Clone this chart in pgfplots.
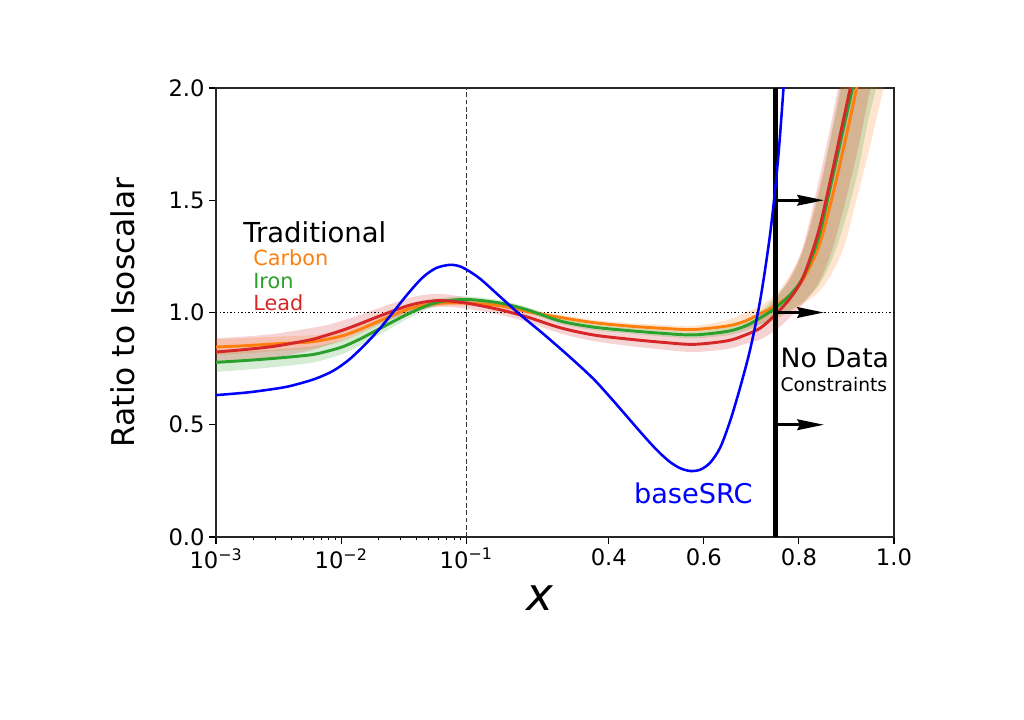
\documentclass[border=0pt]{standalone}
\usepackage{fontspec}
\setmainfont{DejaVu Sans}
\usepackage{pgfplots}
\pgfplotsset{compat=1.18}
\usepackage{pgfplotstable}
\usepgfplotslibrary{fillbetween}
\usetikzlibrary{arrows.meta}

\definecolor{cOrange}{HTML}{FF7F0E}
\definecolor{cGreen}{HTML}{2CA02C}
\definecolor{cRed}{HTML}{D62728}
\definecolor{cBlue}{HTML}{0000FF}

% traditional ratios: centre line and band for carbon (o), iron (g), lead (r)
\pgfplotstableread{
x        oc    olo   ohi   gc    glo   ghi   rc    rlo   rhi
0.001    0.846 0.810 0.880 0.778 0.735 0.820 0.824 0.770 0.885
0.001706 0.852 0.818 0.886 0.786 0.745 0.827 0.835 0.782 0.893
0.002965 0.860 0.828 0.892 0.796 0.757 0.835 0.850 0.800 0.905
0.005649 0.869 0.840 0.898 0.811 0.775 0.847 0.878 0.830 0.930
0.007586 0.880 0.853 0.907 0.826 0.792 0.860 0.898 0.853 0.943
0.01038  0.897 0.872 0.922 0.848 0.816 0.880 0.922 0.880 0.965
0.01419  0.925 0.904 0.946 0.882 0.853 0.911 0.950 0.911 0.989
0.01941  0.958 0.940 0.976 0.922 0.895 0.949 0.980 0.945 1.017
0.03565  1.018 1.003 1.033 0.998 0.978 1.018 1.033 1.000 1.066
0.05861  1.040 1.027 1.053 1.045 1.030 1.060 1.053 1.025 1.083
0.1      1.042 1.030 1.054 1.058 1.044 1.072 1.042 1.017 1.067
0.1716   1.030 1.018 1.042 1.042 1.030 1.054 1.012 0.990 1.034
0.2284   1.004 0.993 1.015 1.012 1.000 1.024 0.980 0.958 1.002
0.2979   0.978 0.967 0.989 0.962 0.950 0.974 0.932 0.907 0.957
0.3674   0.955 0.943 0.967 0.935 0.922 0.948 0.900 0.873 0.927
0.4389   0.940 0.927 0.953 0.920 0.907 0.933 0.882 0.852 0.912
0.5084   0.930 0.915 0.945 0.908 0.894 0.922 0.868 0.836 0.900
0.5779   0.924 0.908 0.940 0.900 0.885 0.915 0.858 0.824 0.892
0.6495   0.940 0.916 0.966 0.916 0.898 0.934 0.874 0.837 0.912
0.6874   0.962 0.930 1.000 0.940 0.918 0.962 0.900 0.860 0.945
0.7189   0.995 0.950 1.030 0.976 0.945 1.005 0.931 0.880 0.985
0.7505   1.030 0.970 1.080 1.020 0.975 1.070 0.990 0.920 1.060
0.7821   1.080 1.005 1.170 1.080 1.010 1.150 1.065 0.980 1.160
0.8095   1.150 1.040 1.290 1.160 1.050 1.280 1.160 1.040 1.300
0.8411   1.290 1.090 1.540 1.330 1.120 1.520 1.360 1.130 1.580
0.8684   1.500 1.170 1.790 1.580 1.230 1.800 1.610 1.270 1.850
0.8958   1.750 1.300 2.070 1.840 1.400 2.100 1.880 1.480 2.150
0.9232   2.020 1.520 2.400 2.100 1.620 2.400 2.150 1.720 2.450
0.9505   2.350 1.750 2.800 2.400 1.900 2.750 2.450 2.000 2.800
1.0      3.000 2.200 3.600 3.000 2.300 3.500 3.000 2.500 3.400
}\tradtable

% baseSRC ratio
\pgfplotstableread{
x        y
0.001    0.632
0.001862 0.645
0.003436 0.666
0.004699 0.684
0.00631  0.706
0.00863  0.740
0.01159  0.790
0.01585  0.862
0.02051  0.930
0.02512  0.990
0.03499  1.090
0.04529  1.158
0.05754  1.198
0.07311  1.212
0.08630  1.208
0.1      1.192
0.12947  1.150
0.17158  1.070
0.21368  0.990
0.26211  0.905
0.31895  0.800
0.36737  0.705
0.40316  0.622
0.43895  0.535
0.46632  0.468
0.48737  0.418
0.50842  0.372
0.52947  0.333
0.55053  0.306
0.57158  0.294
0.59263  0.300
0.61368  0.332
0.63474  0.400
0.65579  0.520
0.67684  0.670
0.69789  0.840
0.71895  1.060
0.74000  1.360
0.75684  1.700
0.77158  2.120
}\srctable

% log axis up to 0.1, linear above
\newcommand{\xmap}{min(log10(\thisrow{x})+3,2)+3.8*max(\thisrow{x}-0.1,0)}

\begin{document}
\begin{tikzpicture}
\begin{axis}[
    scale only axis,
    width=508.5pt, height=336.75pt,
    at={(0,0)}, anchor=south west,
    xmin=0, xmax=5.42, ymin=0, ymax=2,
    xtick={0,1,2,3.14,3.9,4.66,5.42},
    xticklabels={10\textsuperscript{−3},10\textsuperscript{−2},10\textsuperscript{−1},0.4,0.6,0.8,1.0},
    minor xtick={0.301,0.477,0.602,0.699,0.778,0.845,0.903,0.954,1.301,1.477,1.602,1.699,1.778,1.845,1.903,1.954},
    ytick={0,0.5,1,1.5,2},
    yticklabels={0.0,0.5,1.0,1.5,2.0},
    tick pos=left, tick align=outside,
    major tick length=5pt, minor tick length=2.5pt,
    every tick/.style={black, line width=0.8pt},
    axis line style={line width=0.8pt, black!85},
    ticklabel style={font=\fontsize{17}{17}\selectfont},
    ylabel={Ratio to Isoscalar},
    ylabel style={font=\fontsize{23.5}{24}\selectfont, at={(axis description cs:-0.137,0.5)}, anchor=center},
    xlabel={\itshape x},
    xlabel style={font=\fontsize{34}{34}\selectfont, at={(axis description cs:0.478,-0.136)}, anchor=center},
]
% bands
\addplot[name path=ohi, draw=none, smooth, forget plot] table[x expr=\xmap, y=ohi] {\tradtable};
\addplot[name path=olo, draw=none, smooth, forget plot] table[x expr=\xmap, y=olo] {\tradtable};
\addplot[cOrange, fill opacity=0.2, draw=none] fill between[of=ohi and olo];
\addplot[name path=ghi, draw=none, smooth, forget plot] table[x expr=\xmap, y=ghi] {\tradtable};
\addplot[name path=glo, draw=none, smooth, forget plot] table[x expr=\xmap, y=glo] {\tradtable};
\addplot[cGreen, fill opacity=0.2, draw=none] fill between[of=ghi and glo];
\addplot[name path=rhi, draw=none, smooth, forget plot] table[x expr=\xmap, y=rhi] {\tradtable};
\addplot[name path=rlo, draw=none, smooth, forget plot] table[x expr=\xmap, y=rlo] {\tradtable};
\addplot[cRed, fill opacity=0.2, draw=none] fill between[of=rhi and rlo];

% reference lines
\addplot[black, line width=0.9pt, dash pattern=on 1pt off 1.7pt] coordinates {(0,1) (5.42,1)};
\addplot[black!80, line width=0.6pt, dash pattern=on 3.5pt off 2pt] coordinates {(2,0) (2,2)};

% centre lines
\addplot[cOrange, line width=2.2pt, smooth] table[x expr=\xmap, y=oc] {\tradtable};
\addplot[cGreen, line width=2.2pt, smooth] table[x expr=\xmap, y=gc] {\tradtable};
\addplot[cRed, line width=2.2pt, smooth] table[x expr=\xmap, y=rc] {\tradtable};

% no-data boundary at x = 0.75
\addplot[black, line width=3.75pt] coordinates {(4.47,0) (4.47,2)};
\draw[line width=2pt, -{Stealth[length=20pt,width=8pt,inset=2pt]}] (axis cs:4.47,1.5) -- (axis cs:4.86,1.5);
\draw[line width=2pt, -{Stealth[length=20pt,width=8pt,inset=2pt]}] (axis cs:4.47,1.0) -- (axis cs:4.86,1.0);
\draw[line width=2pt, -{Stealth[length=20pt,width=8pt,inset=2pt]}] (axis cs:4.47,0.5) -- (axis cs:4.86,0.5);

\addplot[cBlue, line width=1.9pt, smooth] table[x expr=\xmap, y=y] {\srctable};

% labels
\node[anchor=base west, inner sep=0, font=\fontsize{20.6}{21}\selectfont] at (axis cs:0.216,1.31) {Traditional};
\node[anchor=base west, inner sep=0, font=\fontsize{15.6}{16}\selectfont, text=cOrange] at (axis cs:0.296,1.21) {Carbon};
\node[anchor=base west, inner sep=0, font=\fontsize{15.6}{16}\selectfont, text=cGreen] at (axis cs:0.296,1.109) {Iron};
\node[anchor=base west, inner sep=0, font=\fontsize{15.6}{16}\selectfont, text=cRed] at (axis cs:0.296,1.011) {Lead};
\node[anchor=base west, inner sep=0, font=\fontsize{20}{20}\selectfont] at (axis cs:4.512,0.753) {No Data};
\node[anchor=base west, inner sep=0, font=\fontsize{14}{14}\selectfont] at (axis cs:4.512,0.646) {Constraints};
\node[anchor=base, inner sep=0, font=\fontsize{20.4}{21}\selectfont, text=cBlue] at (axis cs:3.816,0.151) {baseSRC};
\end{axis}
% page frame in the reference's proportions
\path (-162pt,-137.25pt) rectangle (606pt,402.75pt);
\end{tikzpicture}
\end{document}
